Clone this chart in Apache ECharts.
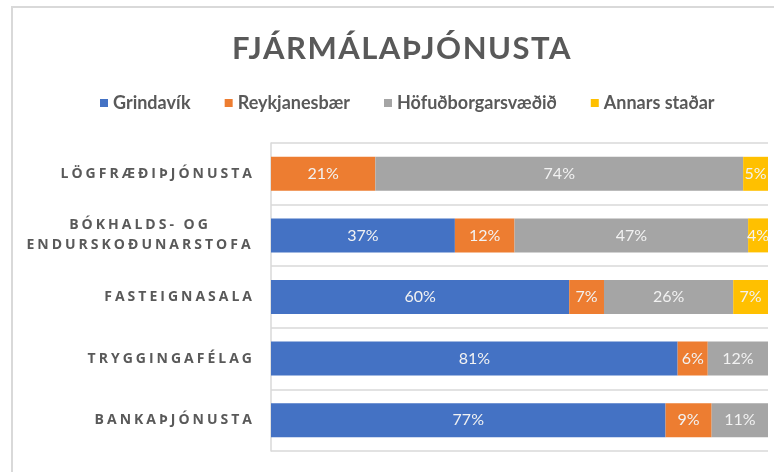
<!DOCTYPE html>
<html>
<head>
<meta charset="utf-8">
<script src="https://cdn.jsdelivr.net/npm/echarts@6/dist/echarts.min.js"></script>
<style>
  html, body { margin: 0; padding: 0; background: #fff; }
  #chart { width: 774px; height: 472px; }
</style>
</head>
<body>
<div id="chart"></div>
<script>
var categories = ['LÖGFRÆÐIÞJÓNUSTA', 'BÓKHALDS- OG\nENDURSKOÐUNARSTOFA', 'FASTEIGNASALA', 'TRYGGINGAFÉLAG', 'BANKAÞJÓNUSTA'];
var seriesNames = ['Grindavík', 'Reykjanesbær', 'Höfuðborgarsvæðið', 'Annars staðar'];
var grindavik = [0, 37, 60, 81, 77];
var reykjanesbaer = [21, 12, 7, 6, 9];
var hofudborg = [74, 47, 26, 12, 11];
var annars = [5, 4, 7, 0, 0];
var colors = ['#4472c4', '#ed7d31', '#a5a5a5', '#ffc000'];

// canvas letter spacing: category labels (Open Sans) and the title (31px)
(function() {
  var proto = CanvasRenderingContext2D.prototype;
  var desc = Object.getOwnPropertyDescriptor(proto, 'font');
  if (!desc || !('letterSpacing' in proto)) return;
  Object.defineProperty(proto, 'font', {
    configurable: true,
    get: function() { return desc.get.call(this); },
    set: function(v) {
      desc.set.call(this, v);
      var f = String(v);
      if (f.indexOf('Open Sans') >= 0) this.letterSpacing = '3px';
      else if (f.indexOf('31px') >= 0) this.letterSpacing = '1.5px';
      else this.letterSpacing = '0px';
    }
  });
})();

function initChart() {
  var chart = echarts.init(document.getElementById('chart'));

  // 100% stacked: each row is scaled to its own total, labels keep the raw numbers
  var rows = [grindavik, reykjanesbaer, hofudborg, annars];
  var totals = categories.map(function(c, i) {
    var s = 0;
    rows.forEach(function(r) { s += r[i]; });
    return s;
  });

  var series = rows.map(function(row, k) {
    return {
      name: seriesNames[k],
      type: 'bar',
      stack: 'total',
      barWidth: 34,
      itemStyle: {color: colors[k]},
      label: {
        show: true,
        position: 'inside',
        color: '#f2f2f2',
        fontSize: 16,
        fontFamily: 'Lato',
        formatter: function(p) {
          return p.data.raw ? p.data.raw + '%' : '';
        }
      },
      data: row.map(function(v, i) {
        return {value: v / totals[i] * 100, raw: v};
      })
    };
  });

  // the two-line label is centred on itself, the others are right-aligned
  var yData = categories.map(function(c) {
    if (c.indexOf('\n') < 0) return c;
    return {value: c, textStyle: {align: 'center', padding: [0, 230, 0, 0], lineHeight: 20}};
  });

  chart.setOption({
    animation: false,
    color: colors,
    title: {
      text: 'FJÁRMÁLAÞJÓNUSTA',
      left: 397,
      textAlign: 'center',
      top: 28,
      textStyle: {color: '#595959', fontSize: 31, fontWeight: 'bold', fontFamily: 'Lato'}
    },
    legend: {
      data: seriesNames,
      left: 95,
      top: 89,
      icon: 'rect',
      itemWidth: 8,
      itemHeight: 8,
      itemGap: 34,
      textStyle: {color: '#595959', fontSize: 18, fontWeight: 'bold', fontFamily: 'Lato'}
    },
    grid: {left: 271, right: 6, top: 143, bottom: 21, containLabel: false},
    xAxis: {
      type: 'value',
      min: 0,
      max: 100,
      show: false
    },
    yAxis: {
      type: 'category',
      inverse: true,
      data: yData,
      axisLine: {lineStyle: {color: '#d9d9d9', width: 1.5}},
      axisTick: {show: false},
      splitLine: {show: true, interval: 0, lineStyle: {color: '#d9d9d9', width: 1.5}},
      axisLabel: {
        interval: 0,
        margin: 16,
        color: '#595959',
        fontSize: 14,
        fontWeight: 'bold',
        fontFamily: 'Open Sans',
        lineHeight: 20
      }
    },
    graphic: [{
      type: 'rect',
      silent: true,
      shape: {x: 12, y: 7, width: 800, height: 500},
      style: {fill: 'none', stroke: '#d9d9d9', lineWidth: 2}
    }],
    series: series
  });
}

initChart();
</script>
</body>
</html>
